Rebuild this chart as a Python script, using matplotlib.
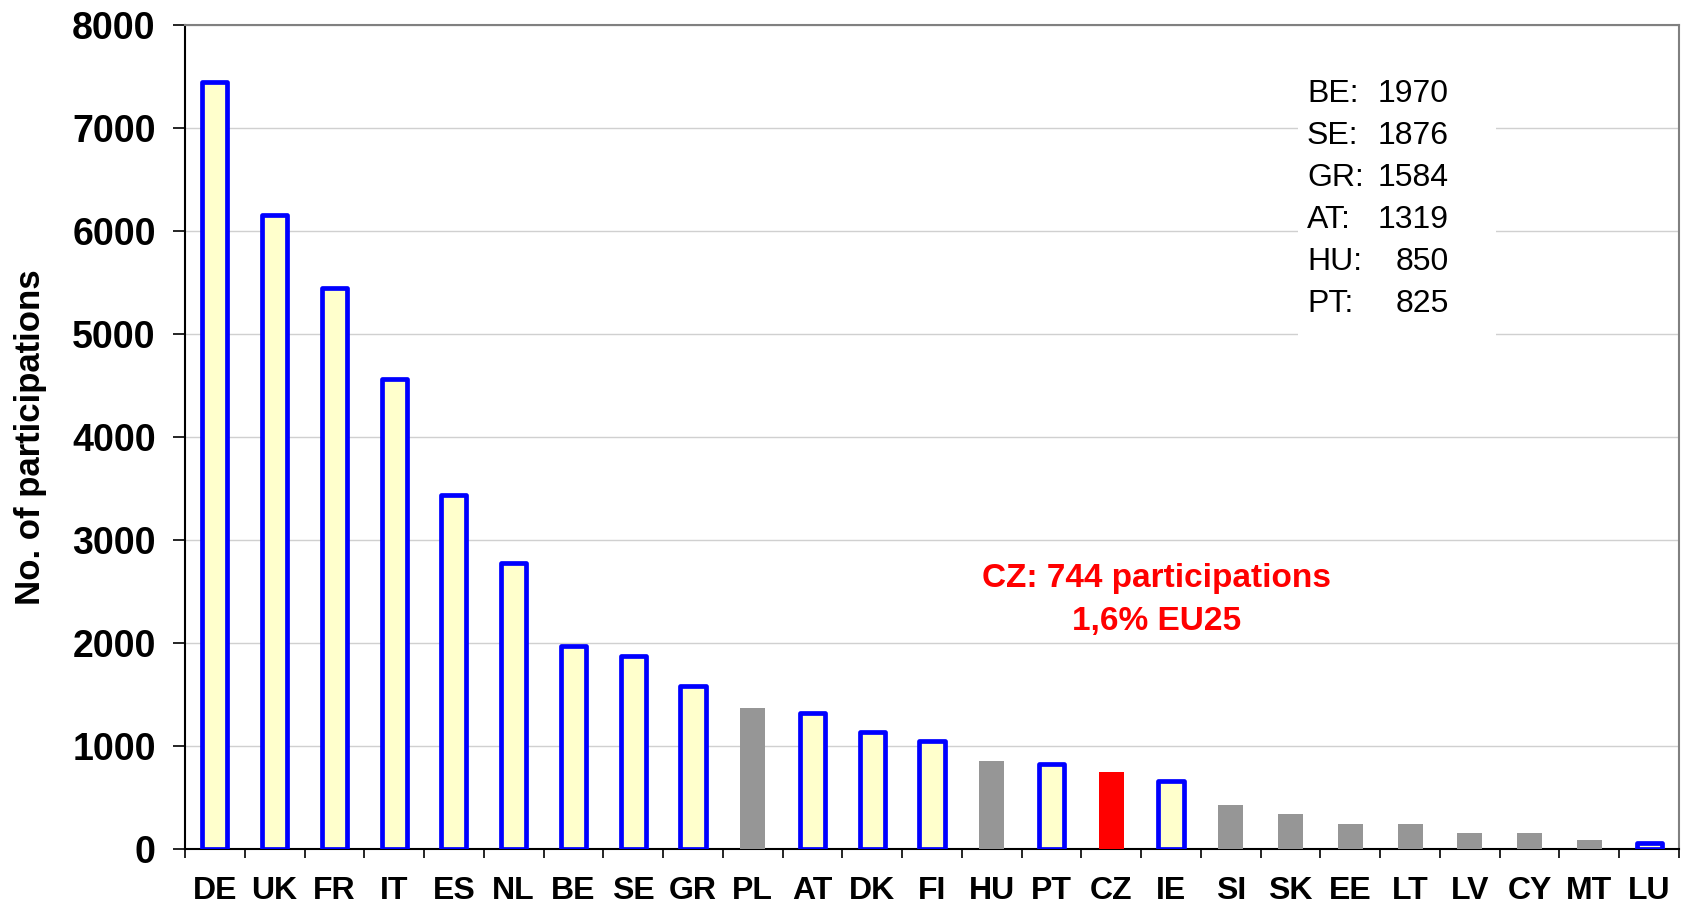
import matplotlib
matplotlib.use("Agg")
import matplotlib.pyplot as plt
from matplotlib.patches import Rectangle
from matplotlib.ticker import FixedLocator, MultipleLocator

countries = ["DE", "UK", "FR", "IT", "ES", "NL", "BE", "SE", "GR", "PL", "AT", "DK",
             "FI", "HU", "PT", "CZ", "IE", "SI", "SK", "EE", "LT", "LV", "CY", "MT", "LU"]
participations = [7450, 6160, 5450, 4565, 3440, 2780, 1970, 1876, 1584, 1370, 1319, 1135,
                  1045, 850, 825, 744, 660, 430, 340, 245, 245, 155, 155, 85, 60]
groups = ["EU15", "EU15", "EU15", "EU15", "EU15", "EU15", "EU15", "EU15", "EU15", "NMS",
          "EU15", "EU15", "EU15", "NMS", "EU15", "CZ", "EU15", "NMS", "NMS", "NMS", "NMS",
          "NMS", "NMS", "NMS", "EU15"]

box_codes = ["BE", "SE", "GR", "AT", "HU", "PT"]
box_values = [1970, 1876, 1584, 1319, 850, 825]

cz_line1 = "CZ: 744 participations"
cz_line2 = "1,6% EU25"
ylabel = "No. of participations"

styles = {
    "EU15": dict(facecolor="#FFFFCC", edgecolor="#0000FF", linewidth=3.4),
    "NMS": dict(facecolor="#969696", edgecolor="none", linewidth=0),
    "CZ": dict(facecolor="#FF0000", edgecolor="none", linewidth=0),
}

plt.rcParams["font.family"] = ["Liberation Sans", "DejaVu Sans"]

W, H = 1688, 907
fig = plt.figure(figsize=(W / 100, H / 100), dpi=100)
x0, x1, y0, y1 = 185, 1679, 25, 849
ax = fig.add_axes([x0 / W, 1 - y1 / H, (x1 - x0) / W, (y1 - y0) / H])

xs = list(range(len(countries)))
for x, v, g in zip(xs, participations, groups):
    ax.bar(x, v, width=0.42, zorder=3, joinstyle="round", **styles[g])

ax.set_xlim(-0.5, len(countries) - 0.5)
ax.set_ylim(0, 8000)
ax.yaxis.set_major_locator(MultipleLocator(1000))
ax.set_xticks(xs)
ax.set_xticklabels(countries, fontsize=23, fontweight="bold")
ax.xaxis.set_minor_locator(FixedLocator([i - 0.5 for i in range(len(countries) + 1)]))
ax.tick_params(axis="x", which="major", length=0, pad=19.5)
ax.tick_params(axis="x", which="minor", length=6.5, width=1.2, color="black")
ax.tick_params(axis="y", which="major", length=8.6, width=1.2, pad=12.5, labelsize=27)
for lab in ax.get_yticklabels():
    lab.set_fontweight("bold")

ax.grid(axis="y", color="#D0D0D0", linewidth=1.0)
ax.set_axisbelow(True)

for s in ["left", "bottom"]:
    ax.spines[s].set_color("black")
    ax.spines[s].set_linewidth(1.5)
for s in ["top", "right"]:
    ax.spines[s].set_color("#808080")
    ax.spines[s].set_linewidth(1.5)

ax.set_ylabel(ylabel, fontsize=25, fontweight="bold")
ax.yaxis.set_label_coords(-0.0924, 0.5)

# white box hiding gridlines behind the list
ax.add_patch(Rectangle(((1298 - x0) / (x1 - x0), 0.60), (1496 - 1298) / (x1 - x0), 0.37,
                       transform=ax.transAxes, facecolor="white", edgecolor="none", zorder=1))

lx = (1307 - x0) / (x1 - x0)
rx = (1449 - x0) / (x1 - x0)
base = 1 - (101.7 - y0) / (y1 - y0)
step = 42 / (y1 - y0)
for i, (c, v) in enumerate(zip(box_codes, box_values)):
    yy = base - i * step
    ax.text(lx, yy, f"{c}:", transform=ax.transAxes, ha="left",
            va="baseline", fontsize=23, color="black", zorder=4)
    ax.text(rx, yy, f"{v}", transform=ax.transAxes, ha="right",
            va="baseline", fontsize=23, color="black", zorder=4)

cx = (1157 - x0) / (x1 - x0)
ax.text(cx, 1 - (587.3 - y0) / (y1 - y0), cz_line1, transform=ax.transAxes, ha="center",
        va="baseline", fontsize=24, fontweight="bold", color="#FF0000", zorder=4)
ax.text(cx, 1 - (630 - y0) / (y1 - y0), cz_line2, transform=ax.transAxes, ha="center",
        va="baseline", fontsize=24, fontweight="bold", color="#FF0000", zorder=4)

fig.savefig("out.png", dpi=100, facecolor="white")
